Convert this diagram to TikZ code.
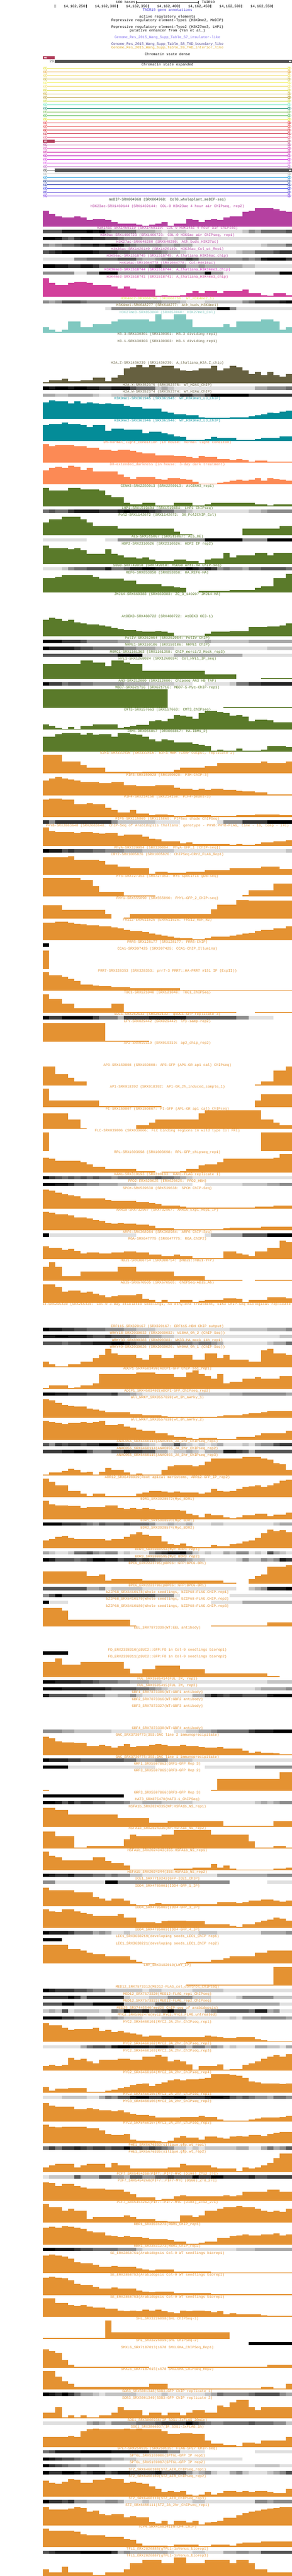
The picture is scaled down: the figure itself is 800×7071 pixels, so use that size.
\documentclass[tikz,border=0pt]{standalone}
\usepackage{fontspec}
\newfontfamily\ucsc{Liberation Mono}
\usetikzlibrary{positioning}

\definecolor{tairblue}{RGB}{60,50,220}
\definecolor{insulator}{RGB}{123,104,238}
\definecolor{tadbound}{RGB}{72,61,139}
\definecolor{tadint}{RGB}{218,165,32}
\definecolor{medip}{RGB}{50,70,50}
\definecolor{histpurple}{RGB}{180,64,160}
\definecolor{brightmag}{RGB}{220,20,200}
\definecolor{kfourme3}{RGB}{210,64,155}
\definecolor{kfourme2}{RGB}{220,220,60}
\definecolor{kfourme1}{RGB}{128,106,40}
\definecolor{ktwsevme3}{RGB}{128,200,192}
\definecolor{histolive}{RGB}{102,96,64}
\definecolor{histteal}{RGB}{4,140,152}
\definecolor{salmon}{RGB}{252,138,85}
\definecolor{olivegreen}{RGB}{90,122,42}
\definecolor{tforange}{RGB}{228,146,50}
\definecolor{densegray}{RGB}{80,80,80}
% grey levels of the heat tracks
\definecolor{gry1}{RGB}{224,224,224}
\definecolor{gry2}{RGB}{196,196,196}
\definecolor{gry3}{RGB}{168,168,168}
\definecolor{gry4}{RGB}{140,140,140}
\definecolor{gry5}{RGB}{112,112,112}
\definecolor{gry6}{RGB}{84,84,84}
\definecolor{gry7}{RGB}{56,56,56}
\definecolor{gry8}{RGB}{28,28,28}
\definecolor{gry9}{RGB}{0,0,0}
% chromatin states
\definecolor{cs1}{RGB}{230,225,50}
\definecolor{cs2}{RGB}{230,160,40}
\definecolor{cs3}{RGB}{240,220,90}
\definecolor{cs4}{RGB}{200,180,60}
\definecolor{cs5}{RGB}{240,240,80}
\definecolor{cs6}{RGB}{240,220,100}
\definecolor{cs7}{RGB}{210,210,30}
\definecolor{cs8}{RGB}{200,170,50}
\definecolor{cs9}{RGB}{170,140,20}
\definecolor{cs10}{RGB}{200,220,60}
\definecolor{cs11}{RGB}{100,230,190}
\definecolor{cs12}{RGB}{20,140,110}
\definecolor{cs13}{RGB}{120,190,80}
\definecolor{cs14}{RGB}{70,180,70}
\definecolor{cs15}{RGB}{220,225,30}
\definecolor{cs16}{RGB}{225,30,40}
\definecolor{cs17}{RGB}{230,70,70}
\definecolor{cs18}{RGB}{215,20,30}
\definecolor{cs19}{RGB}{200,25,50}
\definecolor{cs20}{RGB}{230,90,130}
\definecolor{cs21}{RGB}{176,60,90}
\definecolor{cs22}{RGB}{180,60,150}
\definecolor{cs23}{RGB}{215,70,180}
\definecolor{cs24}{RGB}{200,20,160}
\definecolor{cs25}{RGB}{185,20,185}
\definecolor{cs26}{RGB}{210,40,220}
\definecolor{cs27}{RGB}{225,90,235}
\definecolor{cs28}{RGB}{190,100,200}
\definecolor{cs29}{RGB}{80,80,80}
\definecolor{cs30}{RGB}{176,176,176}
\definecolor{cs31}{RGB}{20,150,220}
\definecolor{cs32}{RGB}{20,50,140}
\definecolor{cs33}{RGB}{20,40,170}
\definecolor{cs34}{RGB}{40,50,230}
\definecolor{cs35}{RGB}{70,50,210}
\definecolor{cs36}{RGB}{120,50,230}

\tikzset{
  tracklabel/.style={font=\ucsc\fontsize{9.85pt}{10pt}\selectfont, inner sep=0pt, anchor=base},
  rulerlabel/.style={font=\ucsc\fontsize{9.85pt}{10pt}\selectfont, inner sep=0pt}
}

\newcounter{trk}
\def\ty{542.5}
\newcommand{\nexttrack}[1]{\pgfmathsetmacro\tynext{\ty+#1}\global\let\ty\tynext\stepcounter{trk}}
\newcommand{\bartrack}[3]{%
  \node[tracklabel, text=#1] (t\thetrk) at (459,\ty+7.8) {#2};
  \foreach \h [count=\i from 0] in {#3}{%
    \ifnum\h>0
      \fill[#1] ({118+round(17.05*\i)},\ty+60.5) rectangle ({118+round(17.05*(\i+1))},{\ty+60.5-2.55*\h});
    \fi}%
  \nexttrack{60}}
\newcommand{\heattrack}[3]{%
  \node[tracklabel, text=#1] (t\thetrk) at (459,\ty+7.8) {#2};
  \foreach \s [count=\i from 0] in {#3}{%
    \ifnum\s>0
      \fill[gry\s] ({118+round(17.05*\i)},\ty+9.5) rectangle ({118+round(17.05*(\i+1))},\ty+18.5);
    \fi}%
  \nexttrack{19}}
\newcommand{\emptytrack}[3]{%
  \node[tracklabel, text=#1] (t\thetrk) at (459,\ty+7.8) {#2};
  \nexttrack{#3}}

\begin{document}
\begin{tikzpicture}[x=1pt,y=-1pt]
	\useasboundingbox (0,0) rectangle (800,7071);
	\fill[white] (0,0) rectangle (800,7071);
	% ruler
	\node[rulerlabel, anchor=base east] (scalelbl) at (371,9.3) {100 bases};
	\coordinate (sbl) at (374,6);
	\coordinate (sbr) at (544,6);
	\draw[line width=1pt] (sbl) -- (sbr);
	\draw[line width=1pt] (374,2.5) -- (374,10.5);
	\draw[line width=1pt] (544,2.5) -- (544,10.5);
	\node[rulerlabel, anchor=base west] (asm) at (553,9.3) {TAIR10};
	\foreach \k in {0,...,7}
		\draw[line width=1pt] (150.7+85.3*\k,13.3) -- (150.7+85.3*\k,21.7);
	\foreach \p [count=\k from 1] in {250,300,350,400,450,500,550}
		\node[rulerlabel, anchor=base east] (pos\p) at ({150.7+85.3*\k-2},21) {14,162,\p};

	\node[tracklabel, text=tairblue] (genes) at (459,30) {TAIR10 gene annotations};
	\node[tracklabel] (active) at (459,49) {active regulatory elements};
	\node[tracklabel] (repone) at (459,58.3) {Repressive regulatory element-Type1 (H3K9me2, MeDIP)};
	\node[tracklabel] (reptwo) at (459,77.3) {Repressive regulatory element-Type2 (H3K27me3, LHP1)};
	\node[tracklabel] (enhancer) at (459,86.3) {putative enhancer from (Yan et al.)};
	\node[tracklabel, text=insulator] (tabseven) at (459,105) {Genome\_Res\_2015\_Wang\_Supp\_Table\_S7\_insulator-like};
	\node[tracklabel, text=tadbound] (tabeight) at (459,124) {Genome\_Res\_2015\_Wang\_Supp\_Table\_S8\_TAD\_boundary\_like};
	\node[tracklabel, text=tadint] (tabnine) at (459,133) {Genome\_Res\_2015\_Wang\_Supp\_Table\_S9\_TAD\_interior\_like};

	% chromatin state dense
	\node[tracklabel] (csdense) at (459,152.3) {Chromatin state dense};
	\fill[cs21] (118,154) rectangle (150,163);
	\fill[white] (124,156)--(120.5,158.5)--(124,161)--cycle (127.5,156)--(124,158.5)--(127.5,161)--cycle;
	\node[rulerlabel, anchor=base east, text=densegray] (statenum) at (148,171.8) {29};
	\fill[densegray] (150,164) rectangle (800,173);
	\fill[white] (792,166)--(795.5,168.5)--(792,171)--cycle (795.5,166)--(799,168.5)--(795.5,171)--cycle;

	% chromatin state expanded
	\node[tracklabel] (csexp) at (459,181) {Chromatin state expanded};
	\foreach \i in {1,...,36}{
		\pgfmathsetmacro\ly{177.3+10*\i}
		\draw[cs\i, line width=1pt] (128,\ly) -- (790,\ly);
		\draw[cs\i, line width=0.6pt] (128,\ly-4) -- (124,\ly) -- (128,\ly+4) -- cycle (124,\ly-4) -- (120,\ly) -- (124,\ly+4) -- cycle (119,\ly-4) -- (119,\ly+4);
		\draw[cs\i, line width=0.6pt] (790,\ly-4) -- (794,\ly) -- (790,\ly+4) -- cycle (794,\ly-4) -- (798,\ly) -- (794,\ly+4) -- cycle;
	}
	\fill[cs21] (118,383) rectangle (150,392);
	\fill[white] (124,385)--(120.5,387.5)--(124,390)--cycle (127.5,385)--(124,387.5)--(127.5,390)--cycle;
	\fill[densegray] (150,463) rectangle (800,472);
	\fill[white] (792,465)--(795.5,467.5)--(792,470)--cycle (795.5,465)--(799,467.5)--(795.5,470)--cycle;

	% signal tracks
	\emptytrack{medip}{meDIP-SRX004968 (SRX004968: Col0\_wholeplant\_meDIP-seq)}{19}
	\bartrack{histpurple}{H3K23ac-SRX1469144 (SRX1469144: COL-0 H3K23ac 4 hour air ChIPseq, rep2)}{17,14,11,10,10,11,10,7,8,8,7,5,3,3,3,2,1,2,3,5,1,3,3,8,7,5,7,8,7,10,11,11,16,17,20,20,20,19,17,16}
	\heattrack{histpurple}{H3K14ac-SRX1469119 (SRX1469119: COL-0 H3K14ac 4 hour air ChIPseq)}{6,6,6,8,8,8,8,9,8,9,6,5,5,5,5,3,3,3,2,1,2,2,2,1,1,1,1,1,1,1,1,1,2,4,3,5,5,5,5,6}
	\heattrack{histpurple}{H3K9ac-SRX1466723 (SRX1466723: COL-0 H3K9ac air ChIPseq, rep1)}{9,9,8,6,5,7,8,8,7,7,6,6,5,4,4,4,3,3,3,2,1,2,2,3,3,1,1,1,1,1,1,1,1,1,1,1,1,1,1,1}
	\heattrack{histpurple}{H3K27ac-SRX648280 (SRX648280: Ath\_buds\_H3K27ac)}{4,3,4,5,5,6,7,7,8,7,8,9,8,6,5,4,4,4,4,3,3,4,3,3,1,1,1,1,1,1,1,1,1,1,1,2,3,3,3,5}
	\heattrack{histpurple}{H3K36ac-SRX1426149 (SRX1426149: H3K36ac\_Col\_wt\_Rep1)}{6,7,8,9,9,9,9,9,8,7,7,7,6,6,5,5,5,5,5,4,3,3,2,1,1,1,1,1,1,1,1,2,3,3,5,5,5,6,7,7}
	\heattrack{histpurple}{H3K56ac-SRX1518745 (SRX1518745: A\_thaliana\_H3K56ac\_chip)}{1,1,1,1,1,4,4,5,5,5,5,5,6,6,6,4,3,3,4,5,6,6,6,7,6,4,4,4,4,4,4,4,5,4,5,8,9,9,9,7}
	\heattrack{histpurple}{H4K16ac-SRX1044778 (SRX1044778: Col-H4K16ac)}{9,9,8,8,7,7,8,8,7,5,5,5,5,5,5,5,5,6,7,5,5,5,5,3,3,4,3,3,3,3,3,3,2,2,1,1,1,1,1,1}
	\heattrack{brightmag}{H3K36me3-SRX1518744 (SRX1518744: A\_thaliana\_H3K36me3\_chip)}{4,4,4,4,4,1,1,4,4,9,9,9,4,4,4,4,4,4,4,4,4,4,4,4,4,4,9,4,4,1,1,1,1,1,4,4,4,4,9,9}
	\bartrack{kfourme3}{H3K4me3-SRX1518741 (SRX1518741: A\_thaliana\_H3K4me3\_chip)}{20,15,13,13,15,16,16,15,13,13,13,11,9,11,9,8,8,8,1,2,1,1,2,4,6,4,6,6,4,6,6,6,8,4,4,2,1,4,4,2}
	\heattrack{kfourme2}{H3K4me2-DRX066756 (DRX066756: WT\_H3K4me2\_1)}{4,3,4,6,6,6,5,4,4,4,4,4,4,4,4,4,4,4,4,3,3,3,2,1,1,1,2,2,2,2,2,2,4,5,7,7,7,7,8,9}
	\heattrack{kfourme1}{H3K4me1-SRX648277 (SRX648277: Ath\_buds\_H3K4me1)}{0,0,0,0,0,0,0,0,0,0,1,4,4,4,4,4,4,4,4,4,4,4,4,4,4,4,4,4,9,9,4,1,1,1,1,1,1,1,1,1}
	\bartrack{ktwsevme3}{H3K27me3-SRX853860 (SRX853860: H3K27me3\_Col)}{6,3,1,3,12,12,6,6,9,9,9,12,14,14,14,14,14,12,20,14,14,20,20,14,6,6,6,6,6,9,6,12,12,12,12,14,14,12,3,6}
	\emptytrack{histolive}{H3.3-SRX130301 (SRX130301: H3.3 dividing rep1)}{19}
	\emptytrack{histolive}{H3.1-SRX130303 (SRX130303: H3.1 dividing rep1)}{60}
	\bartrack{histolive}{H2A.Z-SRX1436239 (SRX1436239: A\_thaliana\_H2A.Z\_chip)}{1,3,3,5,2,2,3,3,6,6,2,6,9,16,17,20,17,20,17,19,19,16,14,13,14,16,16,19,14,16,19,17,14,10,12,9,12,9,7,10}
	\heattrack{histolive}{H2A.X-SRX352375 (SRX352375: WT\_H2AX\_ChIP)}{9,8,9,9,8,9,9,8,8,7,7,8,8,8,6,5,5,5,2,3,2,1,1,1,1,1,1,1,1,1,1,1,1,1,3,3,4,4,4,5}
	\heattrack{histolive}{H2A.W-SRX352374 (SRX352374: WT\_H2AW\_ChIP)}{3,3,2,2,3,3,3,3,2,1,1,2,2,3,3,3,3,5,5,5,5,5,7,7,5,5,7,9,9,9,9,9,9,7,7,7,7,7,7,7}
	\bartrack{histteal}{H3K9me1-SRX361945 (SRX361945: WT\_H3K9me1\_LJ\_ChIP)}{18,20,19,19,17,19,17,18,17,16,17,16,16,14,13,13,11,11,11,8,7,5,5,4,4,2,1,1,1,1,2,2,2,3,4,5,7,6,8,9}
	\bartrack{histteal}{H3K9me2-SRX361946 (SRX361946: WT\_H3K9me2\_LJ\_ChIP)}{17,18,18,20,18,18,17,15,17,17,11,13,13,12,12,12,8,10,10,8,7,5,4,1,1,1,2,4,3,3,3,1,1,1,2,3,3,3,5,5}
	\bartrack{salmon}{DH-normal\_light\_condition (in house: normal light conditon)}{20,18,19,19,19,18,18,16,16,14,14,13,14,14,13,11,10,10,8,8,8,7,7,6,5,7,6,6,4,4,3,4,3,1,2,2,1,1,1,1}
	\bartrack{salmon}{DH-extended\_darkness (in house: 3-day dark treatment)}{15,18,19,18,20,19,16,18,14,14,14,14,11,8,6,8,8,8,6,5,7,7,6,5,3,1,1,1,2,3,4,5,4,5,7,4,7,6,5,4}
	\bartrack{olivegreen}{CENH3-SRX2250913 (SRX2250913: AtCENH3\_rep1)}{20,17,17,17,20,20,18,18,18,17,12,10,10,4,2,2,4,4,1,1,1,4,4,4,1,1,2,4,4,4,4,4,4,4,2,2,1,2,2,2}
	\heattrack{olivegreen}{LHP1-SRX1519404 (SRX1519404: LHP1 ChIPseq)}{5,6,5,5,7,8,8,8,8,7,7,7,8,9,8,8,8,7,6,5,5,3,3,2,1,1,1,1,1,1,1,1,1,2,2,3,4,4,4,4}
	\bartrack{olivegreen}{Pol2-SRX1142672 (SRX1142672: 30\_Pol2ChIP\_Col)}{14,17,17,20,20,20,17,14,10,10,10,10,7,7,7,7,7,7,7,7,7,4,1,1,0,0,0,0,0,0,0,0,7,7,7,7,7,7,10,10}
	\heattrack{olivegreen}{AL5-SRX515067 (SRX515067: AL5\_OE)}{1,1,1,1,1,1,1,0,0,0,1,1,4,4,4,4,4,4,4,4,4,4,4,4,4,4,9,9,9,9,9,9,4,4,4,4,9,9,9,9}
	\bartrack{olivegreen}{HDP2-SRX2310526 (SRX2310526: HDP2 IP rep2)}{20,17,17,17,16,17,15,11,11,11,16,11,9,7,7,6,7,5,3,3,3,5,5,3,3,1,5,6,6,12,7,9,9,9,12,12,9,12,12,12}
	\heattrack{olivegreen}{SDG8-SRX749018 (SRX749018: hSDG8 anti-HA ChIP-seq)}{1,1,1,2,4,5,5,6,6,6,8,5,5,6,8,8,9,9,8,8,8,8,8,9,8,7,8,7,4,5,4,4,3,5,5,6,6,6,6,5}
	\bartrack{olivegreen}{REF6-SRX853858 (SRX853858: HA\_REF6-HA)}{16,16,17,19,19,19,19,19,17,15,15,15,15,13,13,9,9,9,9,7,7,6,5,0,0,2,2,2,2,2,3,3,3,3,5,7,7,16,16,20}
	\emptytrack{olivegreen}{JMJ14-SRX669383 (SRX669383: ZC\_3\_140207 JMJ14-HA)}{60}
	\bartrack{olivegreen}{AtDEK3-SRX488722 (SRX488722: AtDEK3 OE3-1)}{18,20,19,17,18,15,14,13,13,12,11,9,8,7,7,6,5,5,6,5,4,1,1,1,1,1,3,5,5,5,6,6,6,10,10,10,11,11,12,14}
	\heattrack{olivegreen}{PolIV-SRX252954 (SRX252954: PolIV ChIP)}{9,9,9,7,7,7,6,4,4,4,4,4,3,3,2,2,2,2,2,2,2,2,2,2,2,2,3,2,2,2,2,2,2,3,3,3,3,3,3,3}
	\heattrack{olivegreen}{NRPE1-SRX159106 (SRX159106: NRPE1 ChIP)}{9,8,8,8,8,7,6,6,5,5,5,5,5,4,4,3,3,3,2,2,2,1,1,1,1,1,1,1,1,1,1,1,1,1,1,1,2,2,2,2}
	\heattrack{olivegreen}{MORC1-SRX1161363 (SRX1161358: ChIP\_morc1/2\_Mock\_rep3)}{6,6,6,6,6,6,6,6,6,6,6,6,9,9,9,9,1,1,1,1,1,3,3,3,3,3,3,3,3,3,3,3,1,1,1,1,1,1,1,1}
	\bartrack{olivegreen}{HYL1-SRX1268024 (SRX1268024: Col\_HYL1\_IP\_seq)}{16,16,16,16,16,16,20,20,18,18,14,20,20,18,16,16,9,9,9,9,9,9,9,9,9,9,5,5,5,5,5,0,0,0,0,1,1,1,1,1}
	\heattrack{olivegreen}{AN3-SRX212080 (SRX212080: Chipseq AN3 HB TAP)}{9,7,7,5,6,6,5,5,4,4,4,4,4,3,3,3,3,2,2,2,2,1,1,1,0,0,1,1,1,1,2,5,5,7,7,8,8,8,8,8}
	\bartrack{olivegreen}{MBD7-SRX621716 (SRX621716: MBD7-5-Myc-ChIP-rep1)}{20,20,20,20,20,20,20,20,20,20,20,20,20,20,20,20,20,20,20,20,0,0,0,0,0,0,0,0,0,1,1,1,1,1,1,1,1,1,1,1}
	\bartrack{olivegreen}{CMT3-SRX157663 (SRX157663: CMT3\_ChIPseq)}{6,4,2,1,3,1,4,4,6,6,6,6,2,3,4,5,5,9,10,9,12,16,15,14,12,18,20,20,19,18,15,16,14,9,11,11,10,8,8,8}
	\bartrack{olivegreen}{IBM1-DRX066817 (DRX066817: HA-IBM1\_2)}{16,16,19,20,20,20,18,20,18,19,19,16,20,20,19,18,16,13,11,13,12,10,10,10,8,7,6,1,2,1,1,3,1,1,1,2,6,6,6,5}
	\bartrack{tforange}{E2Fa-SRX333416 (SRX333416: E2Fa-HBH TChAP output, replicate 2)}{20,20,20,13,13,13,9,6,6,6,2,2,2,2,1,1,2,2,2,2,2,4,6,6,6,6,8,8,11,11,11,11,11,11,11,13,11,11,11,13}
	\bartrack{tforange}{PIF3-SRX159028 (SRX159028: P3M-ChIP-3)}{16,18,20,18,17,16,14,14,14,13,13,14,14,11,11,10,10,10,11,11,11,8,7,7,6,7,6,7,7,6,6,5,4,4,3,3,1,1,1,1}
	\bartrack{tforange}{PIF4-SRX214150 (SRX214150: PIF4-peaks-3)}{19,20,20,19,19,14,14,15,14,14,10,8,5,5,8,4,4,2,3,3,2,1,1,2,2,2,2,1,1,1,1,2,2,2,3,3,3,3,2,2}
	\heattrack{tforange}{PIF5-SRX115869 (SRX115869: PIF5ox shade ChIPSeq)}{7,4,7,7,7,7,7,7,7,7,7,4,2,2,2,2,2,2,1,1,1,1,0,0,0,0,0,0,1,4,4,4,7,7,7,7,9,9,9,9}
	\bartrack{tforange}{PHYB-SRX2083648 (SRX2083648: ChIP-Seq of Arabidopsis thaliana: genotype - PHYB:PHYB-FLAG, time - 10, temp - 17C)}{20,16,15,15,15,14,15,15,14,13,14,14,11,12,12,12,10,8,7,5,5,5,3,4,2,2,2,2,2,2,1,2,1,1,2,4,4,5,5,6}
	\heattrack{tforange}{PhyA-SRX320094 (SRX320094: PhyA-GFP\_1 [ChIP-seq])}{9,8,8,6,7,6,6,6,5,5,4,4,4,3,3,3,2,2,2,2,2,1,1,1,1,1,1,1,1,1,1,1,1,1,1,1,1,1,1,2}
	\bartrack{tforange}{CRY2-SRX1005826 (SRX1005826: ChIPSeq-CRY2\_FLAG\_Rep1)}{19,19,19,19,20,16,16,16,16,15,11,11,9,9,7,7,7,1,3,3,2,2,2,3,3,3,5,5,5,5,7,7,7,7,7,9,9,9,6,6}
	\bartrack{tforange}{HY5-SRX727353 (SRX727353: HY5 specific gDB-seq)}{20,20,20,20,20,20,18,18,11,5,5,5,5,1,1,1,1,1,0,0,0,0,0,0,0,0,0,0,0,0,0,0,2,7,7,7,7,14,14,14}
	\bartrack{tforange}{FHY1-SRX555090 (SRX555090: FHY1-GFP\_2\_ChIP-seq)}{14,14,14,9,9,9,9,9,9,9,5,0,0,1,5,5,5,5,5,5,5,5,5,5,5,5,5,10,15,15,15,20,20,19,19,19,19,19,19,19}
	\bartrack{tforange}{FRS12-ERX611626 (ERX611626: FRS12\_HBH\_N2)}{19,19,20,20,19,18,17,16,16,15,15,14,13,11,10,10,9,7,6,5,4,3,2,2,1,1,2,4,4,4,5,6,7,8,10,11,11,13,13,15}
	\heattrack{tforange}{PRR5-SRX128177 (SRX128177: PRR5-ChIP)}{9,0,0,0,0,0,0,0,0,0,0,0,0,0,0,0,0,0,0,0,0,0,0,0,0,0,0,0,0,0,0,0,0,0,0,0,0,0,0,0}
	\bartrack{tforange}{CCA1-SRX997425 (SRX997425: CCA1-ChIP\_Illumina)}{20,0,0,0,0,0,0,0,0,0,0,0,0,0,0,0,0,0,0,0,0,0,0,0,0,0,0,0,0,0,0,0,0,0,0,0,0,0,0,0}
	\bartrack{tforange}{PRR7-SRX328353 (SRX328353: prr7-3 PRR7::HA-PRR7 \#151 IP (ExpII))}{20,17,17,15,13,11,7,7,6,5,5,4,4,4,3,3,3,3,3,3,3,3,1,1,1,1,1,1,1,1,1,1,1,1,1,1,1,1,1,1}
	\bartrack{tforange}{TOC1-SRX121040 (SRX121040: TOC1\_ChIPSeq)}{20,15,15,10,10,5,5,5,5,5,5,10,10,1,1,1,1,1,1,1,1,1,1,1,1,1,1,1,1,1,1,0,0,0,1,1,1,1,1,1}
	\heattrack{tforange}{SOC1-SRX262132 (SRX262132: gSOC1-GFP replicate 3)}{9,7,7,9,9,9,9,9,7,5,5,5,3,7,7,7,7,8,8,8,8,8,8,6,6,6,6,6,6,6,6,4,4,1,1,1,1,0,0,0}
	\bartrack{tforange}{LFY-SRX029442 (SRX029442: lfy-samp-rep2)}{20,20,20,20,20,20,20,20,20,20,1,1,1,1,1,1,1,0,0,0,0,0,0,0,0,0,0,0,0,0,0,0,0,0,0,0,0,0,0,0}
	\emptytrack{tforange}{AP2-SRX019319 (SRX019319: ap2\_chip\_rep2)}{60}
	\bartrack{tforange}{AP3-SRX150808 (SRX150808: AP3-GFP (AP1-GR ap1 cal) ChIPseq)}{20,20,12,12,8,4,4,0,0,0,0,0,0,0,0,0,0,0,0,0,0,0,0,0,0,0,0,0,0,0,0,0,0,0,1,4,4,16,16,20}
	\bartrack{tforange}{AP1-SRX018392 (SRX018392: AP1-GR\_2h\_induced\_sample\_1)}{20,7,7,7,7,7,7,7,7,1,1,1,1,1,1,1,1,1,1,0,0,0,0,0,0,0,0,0,0,0,0,0,0,0,7,14,14,14,14,14}
	\bartrack{tforange}{PI-SRX150807 (SRX150807: PI-GFP (AP1-GR ap1 cal) ChIPseq)}{17,17,17,17,10,10,1,0,0,0,0,0,0,0,0,4,4,7,10,10,10,10,10,10,10,17,20,20,20,20,20,20,20,20,20,10,10,7,4,4}
	\bartrack{tforange}{FLC-SRX039006 (SRX039006: FLC binding regions in wild type Col FRI)}{20,0,0,0,0,0,0,0,0,0,0,0,0,0,0,0,0,0,0,0,0,0,0,0,0,0,0,0,0,0,0,0,0,0,0,20,20,20,20,20}
	\bartrack{tforange}{RPL-SRX1603698 (SRX1603698: RPL-GFP\_chipseq\_rep1)}{16,15,13,13,13,13,11,9,6,6,4,4,4,4,4,2,2,2,0,1,1,1,2,4,4,8,9,9,11,15,15,15,15,15,15,15,15,16,20,20}
	\heattrack{tforange}{KAN1-SRX310193 (SRX310193: KAN1-FLAG replicate 1)}{9,7,6,5,6,5,6,5,6,5,5,4,5,5,5,5,5,5,6,5,5,4,3,2,1,1,1,1,1,1,1,1,1,1,1,1,1,1,1,1}
	\heattrack{tforange}{PPD2-ERX620625 (ERX620625: PPD2\_HBH)}{9,9,8,8,7,5,5,4,4,3,3,3,2,2,2,1,1,1,1,1,1,1,1,1,0,0,1,1,1,1,1,1,2,2,2,2,3,3,4,4}
	\bartrack{tforange}{SPCH-SRX539638 (SRX539638: SPCH ChIP-Seq)}{20,19,17,15,14,13,11,11,11,11,9,8,8,8,8,7,7,6,5,3,3,3,2,1,1,1,1,1,1,1,1,1,1,1,2,2,2,3,3,3}
	\bartrack{tforange}{ARR10-SRX732967 (SRX732967: ARR10\_Exp1\_Rep1\_IP)}{20,19,17,17,16,14,14,13,11,10,8,7,8,7,7,6,6,5,2,2,2,1,1,1,1,1,1,1,1,2,3,3,3,3,3,4,4,4,4,4}
	\heattrack{tforange}{ARF6-SRX368984 (SRX368984: ARF6 ChIP-Seq)}{9,1,1,1,1,1,1,1,1,1,1,1,1,1,1,0,0,0,0,0,0,0,0,0,0,0,1,3,3,3,3,3,6,6,6,6,9,9,9,9}
	\bartrack{tforange}{RGA-SRX647775 (SRX647775: RGA\_ChIP2)}{14,12,12,10,11,9,6,7,7,6,6,7,7,8,8,7,7,5,5,3,3,5,3,3,1,1,1,1,1,8,8,6,5,3,8,8,12,12,20,18}
	\bartrack{tforange}{HBI1-SRX388754 (SRX388754: pHBI1::HBI1-YFP)}{15,20,15,5,5,5,10,10,10,10,10,10,15,15,15,10,10,10,10,10,10,5,5,5,5,5,1,1,1,1,1,1,0,0,1,1,1,1,1,1}
	\bartrack{tforange}{ABI5-SRX670505 (SRX670505: ChIPSeq-ABI5\_Ab)}{20,20,17,12,13,13,11,12,10,8,6,7,8,8,8,9,4,3,1,3,1,1,3,3,1,2,3,3,3,5,5,4,1,3,3,3,6,6,6,5}
	\begin{scope}
		\clip (118,\ty) rectangle (800,\ty+12);
		\node[tracklabel, text=tforange] (t\thetrk) at (459,\ty+7.8) {EIN3-SRX215430 (SRX215430: Col-0 3-day etiolated seedlings, no ethylene treatment, EIN3 ChIP-Seq biological replicate 1)};
	\end{scope}
	\nexttrack{60}
	\heattrack{tforange}{ERF115-SRX320167 (SRX320167: ERF115-HBH ChIP output)}{9,8,8,7,7,6,6,5,5,5,4,4,4,3,3,2,2,2,1,1,1,1,1,1,1,1,1,1,1,1,2,2,2,2,2,2,3,3,3,4}
	\heattrack{tforange}{WRKY18-SRX2039032 (SRX2039032: W18HA\_0h\_2 (ChIP-Seq))}{8,8,9,9,8,8,8,7,6,6,7,6,6,6,5,4,4,3,3,2,2,1,1,1,1,1,1,1,1,1,1,1,1,1,1,1,1,1,2,2}
	\heattrack{tforange}{WRKY33-SRX890383 (SRX890383: WK33-HA mock 14h rep1)}{6,6,6,5,6,6,7,7,8,8,8,9,9,8,7,6,6,6,6,6,6,6,5,5,4,5,5,4,3,1,1,1,1,1,1,1,2,3,3,5}
	\bartrack{tforange}{WRKY40-SRX2039026 (SRX2039026: W40HA\_0h\_1 (ChIP-Seq))}{6,3,1,1,3,3,6,6,10,13,20,15,13,13,13,10,8,13,13,10,10,13,13,13,8,8,15,15,10,13,8,8,8,6,6,18,20,15,15,13}
	\bartrack{tforange}{ADCP1-SRX4503490(ADCP1-GFP ChIP-seq\_rep1)}{1,4,4,4,1,2,4,4,6,16,16,16,16,16,16,18,18,18,16,16,16,13,13,18,20,16,14,11,16,6,8,8,11,11,13,11,11,11,14,14}
	\heattrack{tforange}{ADCP1\_SRX4503492(ADCP1-GFP\_ChIPseq\_rep2)}{9,9,8,8,7,7,7,6,6,6,6,7,4,4,3,2,1,1,1,1,1,1,1,1,1,2,2,2,2,2,3,3,4,4,4,4,4,4,4,3}
	\bartrack{tforange}{all\_WRKY\_SRX3557820(wt\_0h\_aWrky\_1)}{20,19,16,14,13,12,12,10,9,8,6,6,6,6,4,4,3,3,3,2,1,1,1,1,1,1,1,1,2,3,3,3,4,5,5,6,7,7,7,7}
	\bartrack{tforange}{all\_WRKY\_SRX3557828(wt\_0h\_aWrky\_2)}{20,19,18,17,18,18,19,18,19,20,16,16,17,14,13,11,10,10,7,7,5,3,3,2,1,2,2,2,1,1,1,3,3,3,5,7,7,7,7,10}
	\heattrack{tforange}{ANAC055\_SRX6460113(ANAC055\_JA\_2hr\_ChIPseq\_rep1)}{6,4,7,6,7,7,6,7,7,9,9,9,7,6,4,4,3,2,1,3,3,6,3,2,1,2,1,2,3,1,1,1,2,1,3,4,4,6,7,7}
	\heattrack{tforange}{ANAC055\_SRX6460114(ANAC055\_JA\_2hr\_ChIPseq\_rep2)}{7,7,7,8,8,9,9,6,4,4,4,6,6,8,7,7,6,6,3,3,1,2,2,3,2,1,3,3,3,8,8,7,6,3,6,6,6,6,6,6}
	\bartrack{tforange}{ANAC055\_SRX6460115(ANAC055\_JA\_2hr\_ChIPseq\_rep3)}{1,3,3,5,7,6,3,4,1,4,8,6,6,3,1,2,1,1,1,6,10,11,11,11,10,11,15,18,18,18,18,18,20,20,20,18,17,13,12,6}
	\bartrack{tforange}{ARR12\_SRX6490939(Root apical meristems, ARR12-GFP\_IP\_rep2)}{20,17,13,13,7,7,4,1,4,4,1,1,1,1,1,4,5,7,7,6,5,6,5,5,5,4,5,9,7,6,7,9,11,12,13,11,13,15,18,19}
	\bartrack{tforange}{BDR1\_SRX3928572(Myc\_BDR1)}{20,16,15,15,14,14,12,13,13,13,15,15,12,11,12,11,12,11,10,10,10,10,9,6,4,2,6,4,4,2,1,2,4,4,6,6,3,5,5,7}
	\heattrack{tforange}{BDR1\_SRX5900593(Myc BDR1)}{9,9,9,7,7,7,6,5,4,6,5,5,5,6,5,5,5,4,2,2,3,2,2,3,1,1,1,2,2,1,1,1,1,1,1,1,1,2,3,3}
	\bartrack{tforange}{BDR2\_SRX3928574(Myc\_BDR2)}{8,10,12,13,11,10,10,10,10,10,8,10,10,12,15,17,14,13,13,7,4,3,5,2,1,1,1,3,2,2,4,5,7,8,11,16,20,18,19,17}
	\heattrack{tforange}{BDR3\_SRX5900594(Myc BDR3 rep1)}{3,2,1,1,2,5,5,6,4,3,4,4,1,2,1,1,1,4,6,7,8,8,9,5,2,1,2,1,1,3,2,4,4,1,2,1,6,3,2,1}
	\heattrack{tforange}{BDR3\_SRX5900595(Myc BDR3 rep2)}{9,8,6,6,6,5,6,7,9,9,8,8,6,7,7,6,7,6,5,4,4,4,4,3,2,2,1,1,1,1,1,2,4,2,2,4,3,4,8,7}
	\bartrack{tforange}{BPC6\_ERX2223705(pBPC6::GFP:BPC6-BR1)}{13,13,13,13,13,13,13,8,8,10,3,5,5,5,5,5,3,3,3,3,3,3,3,3,3,3,3,3,3,1,1,0,0,5,8,10,18,18,18,20}
	\heattrack{tforange}{BPC6\_ERX2223706(pBPC6::GFP:BPC6-BR1)}{6,6,6,6,6,6,6,3,3,4,1,2,2,2,2,2,1,1,1,1,1,1,1,1,1,1,1,1,1,1,1,0,0,2,3,4,8,8,8,9}
	\heattrack{tforange}{bZIP68\_SRX6410178(Whole seedlings, bZIP68-FLAG.CHIP.rep1)}{4,6,9,6,6,6,6,6,6,6,6,6,6,6,6,6,6,6,4,4,4,1,0,0,0,0,0,0,0,0,1,1,1,1,1,1,1,1,1,1}
	\heattrack{tforange}{bZIP68\_SRX6410179(Whole seedlings, bZIP68-FLAG.CHIP.rep2)}{9,1,1,1,0,0,0,0,0,0,0,0,0,0,0,0,0,0,0,0,0,0,0,0,0,0,0,1,1,1,1,1,3,3,3,3,3,3,3,3}
	\bartrack{tforange}{bZIP68\_SRX6410180(Whole seedlings, bZIP68-FLAG.CHIP.rep3)}{20,20,20,17,7,7,7,7,7,7,7,7,7,7,1,0,0,0,0,0,0,0,0,0,0,0,0,1,1,1,1,1,1,1,1,1,4,4,4,4}
	\emptytrack{tforange}{EEL\_SRX7873339(WT:EEL antibody)}{60}
	\heattrack{tforange}{FD\_ERX2338310(pSUC2::GFP:FD in Col-0 seedlings biorep1)}{9,9,9,9,0,0,0,0,0,0,0,0,0,0,0,0,0,0,0,0,0,0,0,0,0,0,0,0,0,0,0,0,0,0,0,0,0,0,0,0}
	\bartrack{tforange}{FD\_ERX2338311(pSUC2::GFP:FD in Col-0 seedlings biorep2)}{16,16,20,13,13,13,16,16,16,16,16,16,16,9,4,4,8,8,12,12,12,12,8,8,8,8,4,4,4,4,4,4,4,4,4,4,1,1,0,0}
	\heattrack{tforange}{FUL\_SRX3505414(FUL IM, rep1)}{9,9,8,8,8,8,7,7,6,5,5,5,4,4,3,3,3,2,2,1,1,1,1,1,1,1,1,1,1,1,1,1,1,1,1,1,2,2,2,2}
	\heattrack{tforange}{FUL\_SRX3505415(FUL IM, rep2)}{9,9,9,8,8,8,8,8,8,8,7,6,6,6,6,5,5,4,3,2,1,1,1,1,1,1,1,1,1,1,1,1,1,1,2,3,3,3,3,4}
	\heattrack{tforange}{GBF1\_SRX7873305(WT:GBF1 antibody)}{8,6,6,6,6,6,6,5,4,4,2,2,3,3,4,2,1,1,1,1,1,1,1,1,3,3,6,8,7,6,7,7,6,6,6,6,8,9,9,9}
	\emptytrack{tforange}{GBF2\_SRX7873316(WT:GBF2 antibody)}{19}
	\emptytrack{tforange}{GBF3\_SRX7873327(WT:GBF3 antibody)}{60}
	\heattrack{tforange}{GBF4\_SRX7873338(WT:GBF4 antibody)}{4,4,4,3,3,2,2,2,2,2,2,1,1,1,1,1,1,1,1,0,0,1,1,2,2,3,3,4,5,5,5,5,5,7,8,8,8,9,9,9}
	\bartrack{tforange}{GNC\_SRX3739773(35S:GNC line 2 immunoprecipitate)}{20,18,15,14,14,13,13,10,10,11,10,8,10,12,9,10,10,11,12,11,10,10,11,10,10,9,8,8,9,7,7,7,5,3,4,3,3,2,1,1}
	\heattrack{tforange}{GNC\_SRX3739775(35S:GNC line 1 immunoprecipitate)}{9,8,8,8,7,7,6,6,6,6,6,6,6,5,5,3,3,3,4,4,2,2,2,2,1,1,1,1,1,1,1,1,1,1,1,1,1,1,1,1}
	\heattrack{tforange}{GRF1\_SRX5507863(GRF1-GFP Rep 3)}{9,9,9,9,1,1,1,1,1,1,1,1,1,1,1,1,1,1,0,0,0,0,0,0,0,0,1,1,1,1,1,1,1,1,4,4,4,4,4,4}
	\bartrack{tforange}{GRF3\_SRX5507865(GRF3-GFP Rep 2)}{1,0,0,0,0,0,0,0,0,0,0,0,0,0,0,0,0,0,0,0,0,0,0,0,0,0,0,1,13,13,13,13,13,13,13,13,13,13,20,20}
	\heattrack{tforange}{GRF3\_SRX5507866(GRF3-GFP Rep 3)}{9,9,9,9,9,9,9,9,9,9,9,9,9,0,0,0,0,0,0,0,0,0,0,0,0,0,0,0,0,0,0,0,0,0,0,0,0,0,0,0}
	\heattrack{tforange}{HAT3\_SRX875470(HAT3-1\_ChIPSeq)}{9,9,8,6,8,6,7,7,6,6,5,5,5,4,2,2,3,3,3,2,2,2,2,2,1,1,1,1,1,1,1,1,1,1,2,3,2,3,4,4}
	\bartrack{tforange}{HSFA1b\_SRX2024335(NP:HSFA1b\_NS\_rep1)}{20,20,18,18,13,13,13,13,13,13,13,13,9,9,9,9,9,4,4,4,6,6,6,6,6,6,6,6,6,1,1,1,1,1,1,1,1,6,6,6}
	\bartrack{tforange}{HSFA1b\_SRX2024336(NP:HSFA1b\_NS\_rep2)}{18,18,13,13,13,1,1,3,3,3,3,3,3,10,15,13,13,13,13,15,15,20,20,20,20,20,20,15,15,15,15,15,15,8,1,1,1,3,3,1}
	\bartrack{tforange}{HSFA1b\_SRX2024343(35S:HSFA1b\_NS\_rep1)}{20,16,14,11,11,11,11,11,14,14,10,8,8,5,1,1,1,1,1,1,1,2,2,2,3,3,3,7,3,5,2,1,1,1,1,1,1,2,2,3}
	\heattrack{tforange}{HSFA1b\_SRX2024344(35S:HSFA1b\_NS\_rep2)}{9,8,7,7,8,6,6,6,5,5,4,5,4,4,2,2,1,1,1,1,1,1,1,1,1,1,1,1,3,3,3,3,3,3,3,3,4,4,4,4}
	\heattrack{tforange}{ICE1\_SRX7719242(GFP-ICE1\_ChIP)}{4,4,1,1,1,1,1,1,1,1,9,9,4,4,4,4,4,4,4,4,4,4,4,4,4,4,4,4,4,4,0,0,0,0,0,0,1,1,1,1}
	\bartrack{tforange}{IDD4\_SRX4705001(IDD4-GFP\_1\_IP)}{20,17,17,17,17,15,15,15,10,8,6,8,8,6,2,1,1,2,3,2,2,2,2,2,2,2,2,2,4,4,4,3,4,6,6,7,7,6,5,6}
	\bartrack{tforange}{IDD4\_SRX4705002(IDD4-GFP\_3\_IP)}{20,18,17,20,20,18,16,15,13,13,13,13,15,11,11,6,6,6,5,7,8,8,8,7,7,7,4,4,4,4,2,1,4,4,6,8,9,11,10,8}
	\heattrack{tforange}{IDD4\_SRX4705003(IDD4-GFP\_4\_IP)}{9,8,8,8,7,5,5,5,3,4,3,1,1,2,1,1,1,1,1,1,1,1,1,1,1,2,2,2,1,1,1,1,1,1,1,3,3,3,3,4}
	\heattrack{tforange}{LEC1\_SRX3638219(developing seeds\_LEC1\_ChIP rep1)}{9,9,9,0,0,0,0,0,0,0,0,0,0,0,0,0,0,0,0,0,0,0,0,0,0,0,0,0,0,0,0,0,0,0,0,0,0,0,0,0}
	\bartrack{tforange}{LEC1\_SRX3638221(developing seeds\_LEC1\_ChIP rep2)}{20,20,20,20,16,16,14,12,10,10,8,8,8,8,4,2,1,1,0,0,0,0,1,2,2,2,2,4,4,6,8,8,8,8,12,12,14,14,14,14}
	\bartrack{tforange}{LHY\_SRX3182010(LHY\_IP)}{0,0,0,0,0,0,0,0,0,0,0,0,0,0,0,0,0,0,0,0,0,0,0,1,1,1,1,1,1,1,1,1,1,1,1,1,1,20,20,20}
	\heattrack{tforange}{MED12\_SRX7573312(MED12-FLAG\_col\_control\_ChIPseq)}{9,8,7,7,7,6,6,5,4,4,2,2,2,2,2,2,1,2,2,1,1,1,1,1,2,2,2,2,2,1,1,1,1,1,1,1,1,1,1,1}
	\heattrack{tforange}{MED12\_SRX7573320(MED12-FLAG\_rep1\_ChIPseq)}{7,7,7,7,9,7,4,7,7,7,7,7,7,2,1,1,1,2,2,2,4,4,4,4,2,2,2,1,1,1,1,2,4,4,4,4,4,2,2,2}
	\heattrack{tforange}{MED12\_SRX7573322(MED12-FLAG\_rep2\_ChIPseq)}{6,6,6,9,9,6,6,6,9,9,9,9,9,3,3,3,3,3,6,6,6,6,6,3,3,3,3,3,3,3,3,3,3,3,3,3,3,3,1,1}
	\heattrack{tforange}{MED25\_SRX7445540(med25 ChIP-seq of arabidopsis)}{2,3,2,6,1,2,2,2,2,1,1,5,4,9,7,7,8,5,6,7,9,6,6,1,1,1,4,5,6,6,6,6,6,5,8,8,3,4,1,1}
	\heattrack{tforange}{MYC2\_SRX5982476(myc2\_MYC2:MYC2\_FLAG\_untreated)}{9,9,9,7,7,6,6,4,4,4,3,4,3,2,2,2,1,1,1,2,2,2,2,1,1,1,1,1,1,1,2,1,3,3,3,4,4,4,4,3}
	\bartrack{tforange}{MYC2\_SRX6460101(MYC2\_JA\_2hr\_ChIPseq\_rep1)}{20,18,18,15,13,14,14,14,15,12,13,11,12,10,9,8,6,7,7,5,5,5,5,5,5,5,7,6,5,4,4,5,5,5,3,2,1,1,1,1}
	\heattrack{tforange}{MYC2\_SRX6460102(MYC2\_JA\_2hr\_ChIPseq\_rep2)}{1,1,1,1,1,1,3,5,6,6,5,8,9,9,8,8,8,7,8,8,7,5,5,3,5,5,3,4,3,1,2,1,1,1,3,3,2,2,1,3}
	\bartrack{tforange}{MYC2\_SRX6460103(MYC2\_JA\_2hr\_ChIPseq\_rep3)}{5,6,5,6,14,12,13,10,8,12,12,12,13,13,12,12,15,15,17,15,10,12,10,7,1,5,5,5,7,1,2,2,6,8,10,13,15,17,15,18}
	\bartrack{tforange}{MYC2\_SRX6460104(MYC2\_JA\_2hr\_ChIPseq\_rep4)}{6,2,4,4,5,5,5,1,1,1,2,3,5,6,8,9,10,7,9,11,13,14,13,14,14,15,16,20,20,20,19,18,16,12,11,10,10,10,9,10}
	\heattrack{tforange}{MYC3\_SRX6460105(MYC3\_JA\_2hr\_ChIPseq\_rep1)}{1,1,1,2,2,2,2,1,1,3,5,4,6,6,8,9,9,7,7,8,8,9,9,7,7,7,8,9,9,8,6,5,6,5,4,4,3,5,5,4}
	\bartrack{tforange}{MYC3\_SRX6460106(MYC3\_JA\_2hr\_ChIPseq\_rep2)}{20,17,16,16,16,13,13,14,13,12,12,11,12,10,8,7,7,6,4,4,4,4,5,5,5,6,5,5,2,1,1,1,1,2,3,4,4,4,5,6}
	\bartrack{tforange}{MYC3\_SRX6460107(MYC3\_JA\_2hr\_ChIPseq\_rep3)}{20,18,17,18,18,18,18,16,16,14,10,9,9,10,4,3,3,3,2,1,3,6,8,6,6,4,7,7,6,5,7,8,7,9,9,8,10,11,12,12}
	\heattrack{tforange}{PHE1\_SRX5676333(silique.gfp.wt\_rep1)}{5,7,5,7,7,8,7,6,7,7,6,7,7,9,7,7,6,7,6,5,4,2,2,1,2,1,2,2,2,2,2,3,3,1,1,3,5,3,4,6}
	\bartrack{tforange}{PHE1\_SRX5676335(silique.gfp.wt\_rep2)}{5,7,9,9,9,5,7,9,9,9,5,10,7,7,4,4,4,4,4,4,5,5,9,7,7,7,7,5,4,4,4,1,5,4,5,7,10,15,20,20}
	\heattrack{tforange}{PIF7\_SRX5454258(PIF7::PIF7-MYC (D108)\_ZT12\_27C)}{1,2,2,2,2,6,3,3,3,6,6,4,4,3,6,6,4,4,6,6,7,6,6,6,9,7,7,9,9,7,7,7,7,8,6,6,7,7,7,7}
	\bartrack{tforange}{PIF7\_SRX5454260(PIF7::PIF7-MYC (D108)\_ZT8\_27C)}{20,19,16,18,18,16,14,13,13,13,12,12,12,10,7,4,4,4,1,2,2,5,6,5,5,5,5,5,5,6,5,6,10,10,10,10,12,12,10,10}
	\bartrack{tforange}{PIF7\_SRX5454262(PIF7::PIF7-MYC (D108)\_ZT12\_27C)}{20,17,17,13,15,13,13,4,6,6,6,6,6,8,6,4,4,4,2,2,1,1,8,8,6,8,13,13,15,17,17,18,17,17,15,13,12,13,12,15}
	\bartrack{tforange}{RBR1\_SRX3531272(RBR1\_ChIP\_rep1)}{18,19,18,20,19,18,17,14,13,13,10,9,8,9,8,8,7,6,6,6,5,3,3,1,1,2,3,3,7,7,9,10,11,10,10,11,11,12,10,11}
	\heattrack{tforange}{RBR1\_SRX3531273(RBR1\_ChIP\_rep2)}{9,9,8,8,8,7,6,6,5,5,5,5,4,4,4,2,1,1,1,1,1,1,1,1,1,1,1,1,1,1,1,2,2,2,3,3,3,3,3,3}
	\bartrack{tforange}{SE\_ERX2858751(Arabidopsis Col-0 WT seedlings biorep1)}{19,20,19,18,16,12,11,11,9,7,7,8,7,7,7,5,4,3,4,4,4,2,2,2,2,2,2,1,1,1,1,1,1,1,1,1,1,1,1,1}
	\bartrack{tforange}{SE\_ERX2858752(Arabidopsis Col-0 WT seedlings biorep1)}{19,20,19,18,16,12,11,11,9,7,7,8,7,7,7,5,4,3,4,4,4,2,2,2,2,2,2,1,1,1,1,1,1,1,1,1,1,1,1,1}
	\bartrack{tforange}{SE\_ERX2858753(Arabidopsis Col-0 WT seedlings biorep1)}{20,20,15,15,13,12,13,11,10,10,9,9,7,6,7,6,8,7,8,6,5,4,7,6,7,7,6,5,6,3,4,3,3,3,3,2,1,1,1,1}
	\bartrack{tforange}{SHL\_SRX3226098(SHL ChIPSeq-1)}{1,1,1,1,1,1,1,1,1,1,20,7,7,7,7,7,7,7,7,7,7,7,7,7,7,7,7,7,7,7,0,0,0,0,0,0,0,0,0,0}
	\heattrack{tforange}{SHL\_SRX3226099(SHL ChIPSeq-2)}{0,0,0,0,0,0,0,0,0,0,0,0,0,0,0,0,0,0,0,0,0,0,0,0,0,0,0,0,0,0,0,0,0,9,9,9,9,9,9,9}
	\bartrack{tforange}{SMXL6\_SRX7187013(s678 SMXL6HA\_ChIPSeq\_Rep1)}{20,18,16,8,3,1,1,1,1,1,1,1,1,1,1,1,1,0,0,0,1,1,1,1,1,1,1,1,1,1,1,1,1,1,1,1,3,3,3,3}
	\bartrack{tforange}{SMXL6\_SRX7187015(s678 SMXL6HA\_ChIPSeq\_Rep2)}{20,20,14,9,6,3,3,3,3,3,3,3,3,3,3,3,3,6,6,6,1,1,1,1,1,1,1,1,1,1,1,1,1,1,1,3,3,1,1,6}
	\heattrack{tforange}{SOB3\_SRX5001348(SOB3-GFP ChIP replicate 1)}{9,8,7,9,7,5,3,3,2,1,2,2,2,2,2,1,1,1,1,2,1,1,1,1,1,1,2,3,5,4,4,4,4,5,6,6,6,6,4,3}
	\bartrack{tforange}{SOB3\_SRX5001349(SOB3-GFP ChIP replicate 2)}{6,6,12,1,3,1,3,1,1,3,3,6,12,9,9,9,3,6,6,3,6,6,3,6,9,9,6,6,14,12,17,20,20,12,9,12,12,12,12,12}
	\heattrack{tforange}{SOG1\_SRX3866936(IP\_SOG1-3xFLAG\_20min)}{1,1,1,1,1,1,1,3,4,3,2,4,4,4,4,5,5,5,6,7,7,7,7,9,7,6,5,4,4,5,5,5,5,6,5,5,5,4,4,2}
	\bartrack{tforange}{SOG1\_SRX3866937(IP\_SOG1-3xFLAG\_1h)}{11,11,11,11,12,11,17,19,20,19,19,19,19,20,19,20,19,19,19,17,14,14,15,15,14,14,7,4,4,2,2,1,5,5,4,7,7,7,7,11}
	\heattrack{tforange}{SPL7-SRX250135 (SRX250135: FLAG-SPL7 ChIP-seq)}{5,6,8,8,8,8,9,9,9,9,9,8,8,8,8,8,8,6,6,6,4,4,1,1,1,1,0,0,0,0,0,0,0,0,1,1,1,1,1,1}
	\heattrack{tforange}{SPT6L\_SRX5169086(SPT6L-GFP IP rep1)}{9,8,7,6,6,5,4,4,4,4,4,3,3,2,2,1,1,1,1,1,1,1,1,1,1,1,1,1,1,1,1,1,0,0,0,0,0,0,0,0}
	\heattrack{tforange}{SPT6L\_SRX5169087(SPT6L-GFP IP rep2)}{9,7,6,5,4,4,3,4,4,3,2,2,2,2,2,1,1,1,1,1,1,1,1,1,1,1,1,1,1,1,1,1,1,1,2,2,2,2,1,1}
	\heattrack{tforange}{STZ\_SRX6460108(STZ\_AIR\_ChIPseq\_rep1)}{9,7,7,9,9,8,6,7,8,8,6,7,8,8,7,7,7,7,8,6,6,6,6,4,2,3,4,2,1,1,3,4,2,1,1,1,2,3,4,6}
	\bartrack{tforange}{STZ\_SRX6460109(STZ\_AIR\_ChIPseq\_rep2)}{17,15,14,16,19,18,15,15,18,18,20,19,19,15,16,15,14,11,8,5,6,5,6,2,1,2,5,2,4,6,6,5,6,5,6,6,5,4,4,8}
	\heattrack{tforange}{STZ\_SRX6460110(STZ\_AIR\_ChIPseq\_rep3)}{9,7,7,6,7,4,4,3,3,3,4,4,3,1,1,1,2,1,1,1,1,1,1,1,2,2,1,1,1,1,1,1,1,1,4,4,3,4,4,4}
	\bartrack{tforange}{STZ\_SRX6460111(STZ\_JA\_2hr\_ChIPseq\_rep1)}{20,17,17,17,18,20,19,15,16,12,11,12,12,9,10,9,9,4,2,5,1,5,5,3,5,1,3,4,5,8,8,11,13,15,16,17,18,19,20,20}
	\bartrack{tforange}{TCP4\_SRX4168241(mTCP4\_ChIP)}{20,18,18,18,18,17,14,13,13,13,11,11,11,9,8,4,2,2,2,2,1,3,3,3,3,1,1,3,3,3,2,4,5,5,5,6,6,6,6,6}
	\heattrack{tforange}{TFL1\_ERX2826885(gTFL1-1xVenus\_biorep1)}{6,7,8,8,8,8,9,9,9,9,9,7,3,4,3,3,3,3,3,3,2,1,1,1,2,2,1,1,1,3,3,4,4,3,3,6,6,6,6,6}
	\bartrack{tforange}{TFL1\_ERX2826887(gTFL1-1xVenus\_biorep3)}{7,4,4,10,4,4,4,4,1,1,4,4,4,7,14,14,17,17,17,14,14,20,20,14,14,14,17,17,17,17,14,17,17,14,7,7,4,4,4,4}
\end{tikzpicture}
\end{document}
